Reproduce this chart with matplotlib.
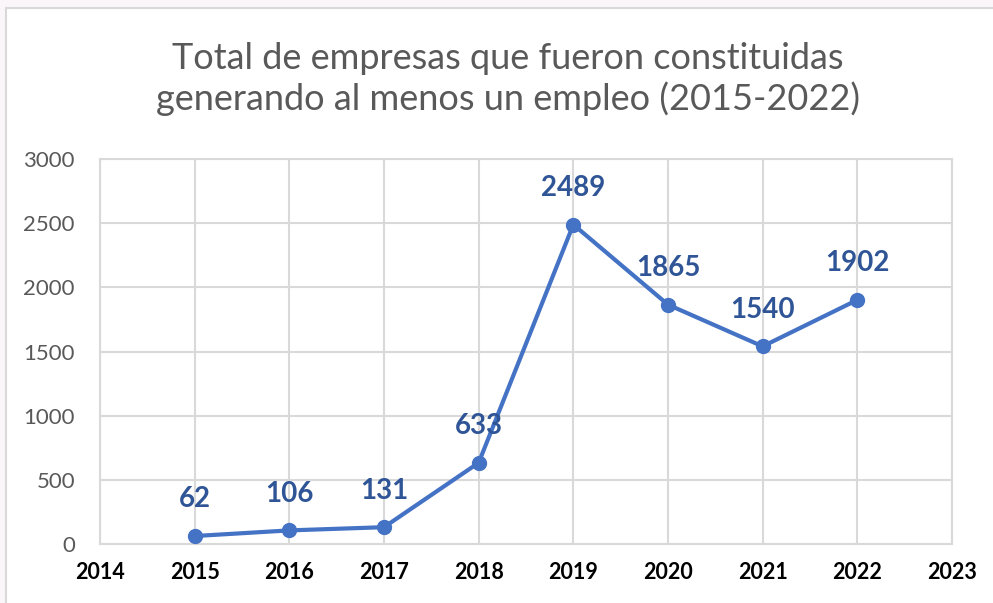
import matplotlib.pyplot as plt
from matplotlib.patches import Rectangle

years = [2015, 2016, 2017, 2018, 2019, 2020, 2021, 2022]
empresas = [62, 106, 131, 633, 2489, 1865, 1540, 1902]
xticks = list(range(2014, 2024))
yticks = [0, 500, 1000, 1500, 2000, 2500, 3000]

plt.rcParams['font.family'] = ['Lato', 'DejaVu Sans']

fig = plt.figure(figsize=(9.93, 6.03), dpi=100)
fig.patch.set_facecolor('#fbf6fa')
# white chart frame
frame = Rectangle((6/993, -0.05), 1.0, (603-8)/603 + 0.05, transform=fig.transFigure,
                  facecolor='white', edgecolor='#d9d9d9', linewidth=1.5, zorder=-5)
fig.patches.append(frame)

ax = fig.add_axes([100/993, 59/603, 852/993, 385/603])
ax.set_facecolor('white')
ax.plot(years, empresas, color='#4472c4', linewidth=3, marker='o', markersize=10, zorder=3,
        clip_on=False)
for x, y in zip(years, empresas):
    ax.annotate(str(y), (x, y), xytext=(0, 17), textcoords='offset points', ha='center',
                va='bottom', fontsize=20, fontweight='bold', color='#2f5597')

ax.set_xlim(2014, 2023)
ax.set_ylim(0, 3000)
ax.set_xticks(xticks)
ax.set_yticks(yticks)
ax.grid(True, color='#d9d9d9', linewidth=1.5)
ax.set_axisbelow(True)
for s in ax.spines.values():
    s.set_color('#d9d9d9')
    s.set_linewidth(1.5)
ax.tick_params(length=0)
ax.tick_params(axis='x', pad=13, labelsize=15.5, labelcolor='black')
ax.tick_params(axis='y', pad=18, labelsize=16, labelcolor='#595959')
for lbl in ax.get_xticklabels():
    lbl.set_fontweight('bold')

fig.text(508/993, 1 - 79/603, 'Total de empresas que fueron constituidas\ngenerando al menos un empleo (2015-2022)',
         ha='center', va='center', fontsize=26, color='#595959', linespacing=1.2)

fig.savefig('out.png', dpi=100, facecolor=fig.get_facecolor())
